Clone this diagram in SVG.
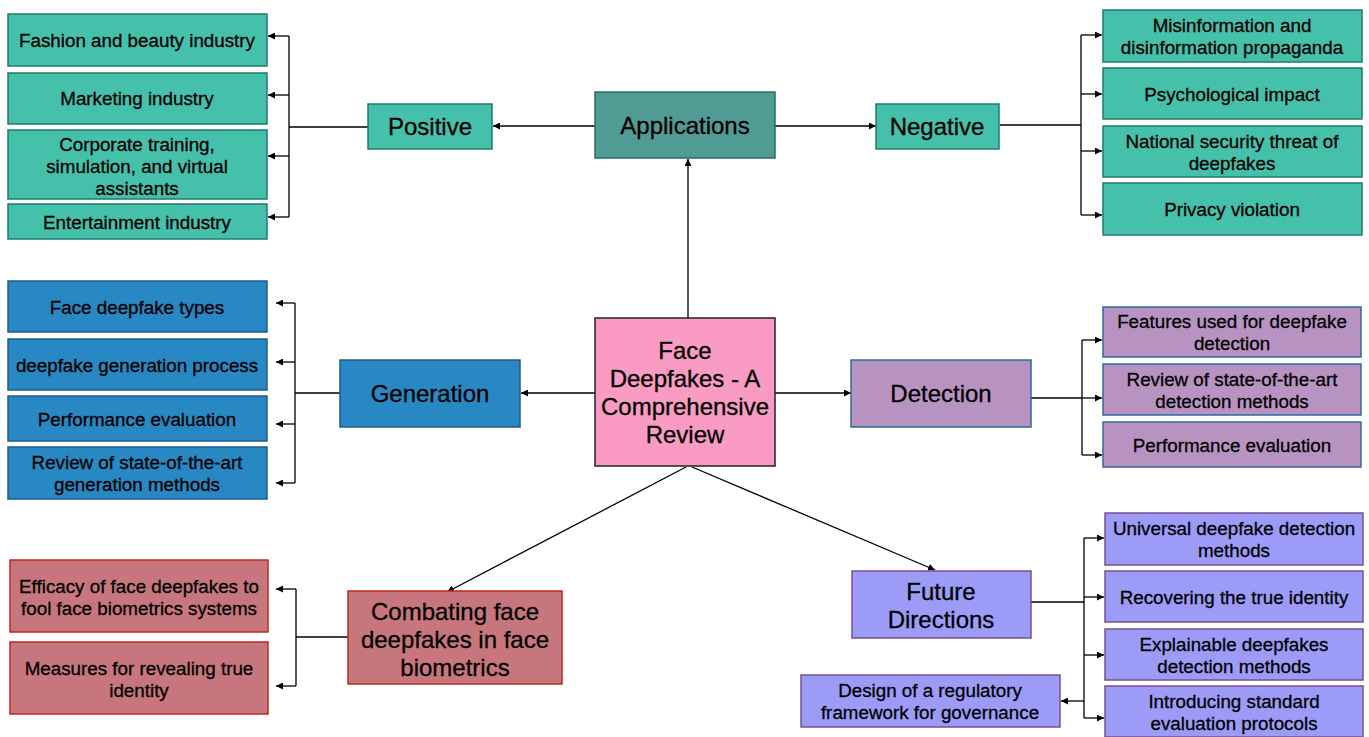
<svg xmlns="http://www.w3.org/2000/svg" width="1369" height="737" viewBox="0 0 1369 737">
  <defs>
    <marker id="ah" viewBox="0 0 10 10" refX="10" refY="5" markerWidth="7" markerHeight="7" markerUnits="userSpaceOnUse" orient="auto">
      <path d="M0,0 L10,5 L0,10 z" fill="#000"/>
    </marker>
    <style>
      text { font-family: "Liberation Sans", Arial, sans-serif; fill: #000; stroke: #000; stroke-width: 0.3; text-anchor: middle; }
      .sm { font-size: 18.8px; }
      .lg { font-size: 24px; }
      .ctr { font-size: 24px; }
      .teal { fill: #45C1AB; stroke: #1E7B6E; stroke-width: 1.5; }
      .app { fill: #509C94; stroke: #2B6B63; stroke-width: 1.5; }
      .blue { fill: #2888C4; stroke: #1B5C8A; stroke-width: 1.5; }
      .purp { fill: #B893C2; stroke: #2F6A9E; stroke-width: 1.5; }
      .fut { fill: #9C9CF8; stroke: #7B4F8F; stroke-width: 1.5; }
      .red { fill: #C8767E; stroke: #C0281C; stroke-width: 1.5; }
      .pink { fill: #F99BC3; stroke: #222; stroke-width: 1.5; }
      .ln { fill: none; stroke: #000; stroke-width: 1.3; }
      .ar { fill: none; stroke: #000; stroke-width: 1.3; marker-end: url(#ah); }
    </style>
  </defs>
  <rect width="1369" height="737" fill="#fff"/>

  <!-- connectors -->
  <g id="connectors">
    <!-- center to main branches -->
    <line class="ar" x1="688" y1="318" x2="688" y2="159"/>
    <line class="ar" x1="595" y1="126" x2="493" y2="126"/>
    <line class="ar" x1="775" y1="126" x2="876" y2="126"/>
    <line class="ar" x1="595" y1="393" x2="521" y2="393"/>
    <line class="ar" x1="775" y1="393" x2="851" y2="393"/>
    <line class="ar" x1="686" y1="467" x2="447" y2="592"/>
    <line class="ar" x1="692" y1="467" x2="935" y2="570"/>

    <!-- Positive bracket -->
    <line class="ln" x1="368" y1="127" x2="289" y2="127"/>
    <line class="ln" x1="289" y1="36" x2="289" y2="217"/>
    <line class="ar" x1="289" y1="36" x2="268" y2="36"/>
    <line class="ar" x1="289" y1="95" x2="268" y2="95"/>
    <line class="ar" x1="289" y1="156" x2="268" y2="156"/>
    <line class="ar" x1="289" y1="217" x2="268" y2="217"/>

    <!-- Negative bracket -->
    <line class="ln" x1="1000" y1="125" x2="1081" y2="125"/>
    <line class="ln" x1="1081" y1="35" x2="1081" y2="215"/>
    <line class="ar" x1="1081" y1="35" x2="1102" y2="35"/>
    <line class="ar" x1="1081" y1="94" x2="1102" y2="94"/>
    <line class="ar" x1="1081" y1="151" x2="1102" y2="151"/>
    <line class="ar" x1="1081" y1="215" x2="1102" y2="215"/>

    <!-- Generation bracket -->
    <line class="ln" x1="340" y1="393" x2="295" y2="393"/>
    <line class="ln" x1="295" y1="303" x2="295" y2="483"/>
    <line class="ar" x1="295" y1="303" x2="276" y2="303"/>
    <line class="ar" x1="295" y1="362" x2="276" y2="362"/>
    <line class="ar" x1="295" y1="424" x2="276" y2="424"/>
    <line class="ar" x1="295" y1="483" x2="276" y2="483"/>

    <!-- Detection bracket -->
    <line class="ln" x1="1031" y1="398" x2="1082" y2="398"/>
    <line class="ln" x1="1082" y1="340" x2="1082" y2="455"/>
    <line class="ar" x1="1082" y1="340" x2="1102" y2="340"/>
    <line class="ar" x1="1082" y1="398" x2="1102" y2="398"/>
    <line class="ar" x1="1082" y1="455" x2="1102" y2="455"/>

    <!-- Combating bracket -->
    <line class="ln" x1="348" y1="637" x2="296" y2="637"/>
    <line class="ln" x1="296" y1="589" x2="296" y2="686"/>
    <line class="ar" x1="296" y1="589" x2="276" y2="589"/>
    <line class="ar" x1="296" y1="686" x2="276" y2="686"/>

    <!-- Future Directions bracket -->
    <line class="ln" x1="1031" y1="602" x2="1084" y2="602"/>
    <line class="ln" x1="1084" y1="538" x2="1084" y2="718"/>
    <line class="ar" x1="1084" y1="538" x2="1104" y2="538"/>
    <line class="ar" x1="1084" y1="597" x2="1104" y2="597"/>
    <line class="ar" x1="1084" y1="655" x2="1104" y2="655"/>
    <line class="ar" x1="1084" y1="718" x2="1104" y2="718"/>
    <line class="ar" x1="1084" y1="701" x2="1061" y2="701"/>
  </g>

  <!-- center -->
  <g id="center">
    <rect class="pink" x="595" y="318" width="180" height="148"/>
    <text class="ctr" x="685" y="359">Face</text>
    <text class="ctr" x="685" y="387">Deepfakes - A</text>
    <text class="ctr" x="685" y="415">Comprehensive</text>
    <text class="ctr" x="685" y="443">Review</text>
  </g>

  <!-- Applications branch -->
  <g id="applications">
    <rect class="app" x="595" y="92" width="180" height="66"/>
    <text class="lg" x="685" y="134">Applications</text>
  </g>
  <g id="positive">
    <rect class="teal" x="368" y="104" width="124" height="45"/>
    <text class="lg" x="430" y="135">Positive</text>
  </g>
  <g id="pos-fashion">
    <rect class="teal" x="8" y="14" width="259" height="52"/>
    <text class="sm" x="137" y="47">Fashion and beauty industry</text>
  </g>
  <g id="pos-marketing">
    <rect class="teal" x="8" y="73" width="259" height="51"/>
    <text class="sm" x="137" y="105">Marketing industry</text>
  </g>
  <g id="pos-corporate">
    <rect class="teal" x="8" y="130" width="259" height="69"/>
    <text class="sm" x="137" y="151">Corporate training,</text>
    <text class="sm" x="137" y="173">simulation, and virtual</text>
    <text class="sm" x="137" y="195">assistants</text>
  </g>
  <g id="pos-entertainment">
    <rect class="teal" x="8" y="204" width="259" height="35"/>
    <text class="sm" x="137" y="229">Entertainment industry</text>
  </g>

  <g id="negative">
    <rect class="teal" x="876" y="104" width="123" height="45"/>
    <text class="lg" x="937" y="135">Negative</text>
  </g>
  <g id="neg-misinfo">
    <rect class="teal" x="1103" y="10" width="259" height="52"/>
    <text class="sm" x="1232" y="32">Misinformation and</text>
    <text class="sm" x="1232" y="54">disinformation propaganda</text>
  </g>
  <g id="neg-psych">
    <rect class="teal" x="1103" y="68" width="259" height="51"/>
    <text class="sm" x="1232" y="101">Psychological impact</text>
  </g>
  <g id="neg-security">
    <rect class="teal" x="1103" y="126" width="259" height="51"/>
    <text class="sm" x="1232" y="148">National security threat of</text>
    <text class="sm" x="1232" y="170">deepfakes</text>
  </g>
  <g id="neg-privacy">
    <rect class="teal" x="1103" y="183" width="259" height="52"/>
    <text class="sm" x="1232" y="216">Privacy violation</text>
  </g>

  <!-- Generation branch -->
  <g id="generation">
    <rect class="blue" x="340" y="360" width="180" height="67"/>
    <text class="lg" x="430" y="402">Generation</text>
  </g>
  <g id="gen-types">
    <rect class="blue" x="8" y="281" width="259" height="51"/>
    <text class="sm" x="137" y="314">Face deepfake types</text>
  </g>
  <g id="gen-process">
    <rect class="blue" x="8" y="339" width="259" height="51"/>
    <text class="sm" x="137" y="372">deepfake generation process</text>
  </g>
  <g id="gen-eval">
    <rect class="blue" x="8" y="396" width="259" height="45"/>
    <text class="sm" x="137" y="426">Performance evaluation</text>
  </g>
  <g id="gen-review">
    <rect class="blue" x="8" y="447" width="259" height="52"/>
    <text class="sm" x="137" y="469">Review of state-of-the-art</text>
    <text class="sm" x="137" y="491">generation methods</text>
  </g>

  <!-- Detection branch -->
  <g id="detection">
    <rect class="purp" x="851" y="360" width="180" height="67"/>
    <text class="lg" x="941" y="402">Detection</text>
  </g>
  <g id="det-features">
    <rect class="purp" x="1103" y="307" width="258" height="50"/>
    <text class="sm" x="1232" y="328">Features used for deepfake</text>
    <text class="sm" x="1232" y="350">detection</text>
  </g>
  <g id="det-review">
    <rect class="purp" x="1103" y="364" width="258" height="51"/>
    <text class="sm" x="1232" y="386">Review of state-of-the-art</text>
    <text class="sm" x="1232" y="408">detection methods</text>
  </g>
  <g id="det-eval">
    <rect class="purp" x="1103" y="422" width="258" height="45"/>
    <text class="sm" x="1232" y="452">Performance evaluation</text>
  </g>

  <!-- Combating branch -->
  <g id="combating">
    <rect class="red" x="348" y="591" width="214" height="93"/>
    <text class="lg" x="455" y="620">Combating face</text>
    <text class="lg" x="455" y="648">deepfakes in face</text>
    <text class="lg" x="455" y="676">biometrics</text>
  </g>
  <g id="comb-efficacy">
    <rect class="red" x="10" y="560" width="258" height="72"/>
    <text class="sm" x="139" y="593">Efficacy of face deepfakes to</text>
    <text class="sm" x="139" y="615">fool face biometrics systems</text>
  </g>
  <g id="comb-measures">
    <rect class="red" x="10" y="642" width="258" height="72"/>
    <text class="sm" x="139" y="675">Measures for revealing true</text>
    <text class="sm" x="139" y="697">identity</text>
  </g>

  <!-- Future Directions branch -->
  <g id="future">
    <rect class="fut" x="852" y="571" width="179" height="67"/>
    <text class="lg" x="941" y="600">Future</text>
    <text class="lg" x="941" y="628">Directions</text>
  </g>
  <g id="fut-universal">
    <rect class="fut" x="1105" y="513" width="258" height="52"/>
    <text class="sm" x="1234" y="535">Universal deepfake detection</text>
    <text class="sm" x="1234" y="557">methods</text>
  </g>
  <g id="fut-recover">
    <rect class="fut" x="1105" y="571" width="258" height="51"/>
    <text class="sm" x="1234" y="604">Recovering the true identity</text>
  </g>
  <g id="fut-explain">
    <rect class="fut" x="1105" y="629" width="258" height="51"/>
    <text class="sm" x="1234" y="651">Explainable deepfakes</text>
    <text class="sm" x="1234" y="673">detection methods</text>
  </g>
  <g id="fut-protocols">
    <rect class="fut" x="1105" y="686" width="258" height="51"/>
    <text class="sm" x="1234" y="708">Introducing standard</text>
    <text class="sm" x="1234" y="730">evaluation protocols</text>
  </g>
  <g id="fut-regulatory">
    <rect class="fut" x="801" y="675" width="259" height="52"/>
    <text class="sm" x="930" y="697">Design of a regulatory</text>
    <text class="sm" x="930" y="719">framework for governance</text>
  </g>
</svg>
